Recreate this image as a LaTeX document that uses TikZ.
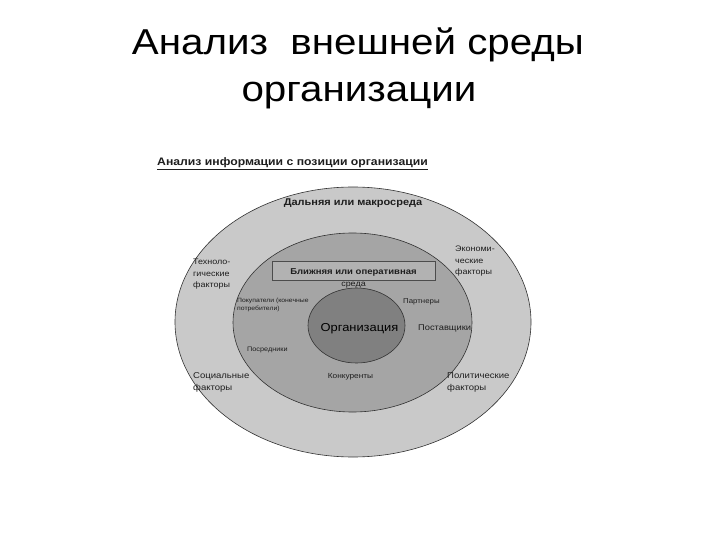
\documentclass[tikz,border=0pt]{standalone}
\usepackage{fontspec}
\setmainfont{Liberation Sans}[FakeStretch=1.12]
\definecolor{outerc}{HTML}{C9C9C9}
\definecolor{midc}{HTML}{A5A5A5}
\definecolor{innerc}{HTML}{808080}
\definecolor{boxc}{HTML}{B2B2B2}
\definecolor{txt}{HTML}{1E1E1E}
\begin{document}
\begin{tikzpicture}[x=1pt,y=-1pt,
  lbl/.style={inner sep=0pt, text=txt, font=\fontsize{8}{11.5}\selectfont, align=left},
  tiny/.style={inner sep=0pt, text=txt, font=\fontsize{6.1}{7.5}\selectfont, align=left},
  ring/.style={draw=black!80, line width=0.6pt}]
\useasboundingbox (0,0) rectangle (720,540);
\fill[white] (0,0) rectangle (720,540);
% title
\node[inner sep=0pt, anchor=base, font=\fontsize{36}{40}\selectfont] (t1) at (358,55) {Анализ \ внешней среды};
\node[inner sep=0pt, anchor=base, font=\fontsize{36}{40}\selectfont] (t2) at (359,102) {организации};
% subtitle
\node[inner sep=0pt, anchor=west, font=\bfseries\fontsize{10.9}{12}\selectfont, text=txt] (sub) at (157,163) {Анализ информации с позиции организации};
\draw[txt, line width=0.6pt] ([yshift=-1.5pt]sub.south west) -- ([yshift=-1.5pt]sub.south east);
% ellipses
\draw[ring, fill=outerc] (353,322) ellipse [x radius=178, y radius=135];
\draw[ring, fill=midc] (352.5,322.5) ellipse [x radius=119.5, y radius=89.5];
\draw[ring, fill=innerc] (356.5,325.5) ellipse [x radius=48.5, y radius=37.5];
% box
\draw[black!70, fill=boxc, line width=0.5pt] (272,261) rectangle (435,280);
\node[inner sep=0pt, font=\bfseries\fontsize{8.5}{9}\selectfont, text=txt] (near) at (353.5,272) {Ближняя или оперативная};
\node[lbl] (sreda) at (353.5,285.5) {среда};
% labels
\node[inner sep=0pt, font=\bfseries\fontsize{9.8}{11}\selectfont, text=txt] (far) at (353,203) {Дальняя или макросреда};
\node[lbl, anchor=north west] (tech) at (193,259) {Техноло-\\гические\\факторы};
\node[lbl, anchor=north west] (econ) at (455,246) {Экономи-\\ческие\\факторы};
\node[lbl, font=\fontsize{8.5}{12}\selectfont, anchor=north west] (soc) at (193,372) {Социальные\\факторы};
\node[lbl, font=\fontsize{8.5}{12}\selectfont, anchor=north west] (pol) at (447,372) {Политические\\факторы};
\node[tiny, anchor=north west] (cust) at (237,298) {Покупатели (конечные\\потребители)};
\node[lbl, font=\fontsize{7}{8}\selectfont, anchor=west] (part) at (403,302) {Партнеры};
\node[lbl, font=\fontsize{8.3}{9}\selectfont, anchor=west] (supp) at (418,328) {Поставщики};
\node[tiny, font=\fontsize{6.5}{7.5}\selectfont, anchor=west] (inter) at (247,350) {Посредники};
\node[lbl, font=\fontsize{7.4}{8}\selectfont] (comp) at (350.5,377) {Конкуренты};
\node[inner sep=0pt, font=\fontsize{11.5}{12}\selectfont, text=black] (org) at (359.5,329) {Организация};
\end{tikzpicture}
\end{document}
